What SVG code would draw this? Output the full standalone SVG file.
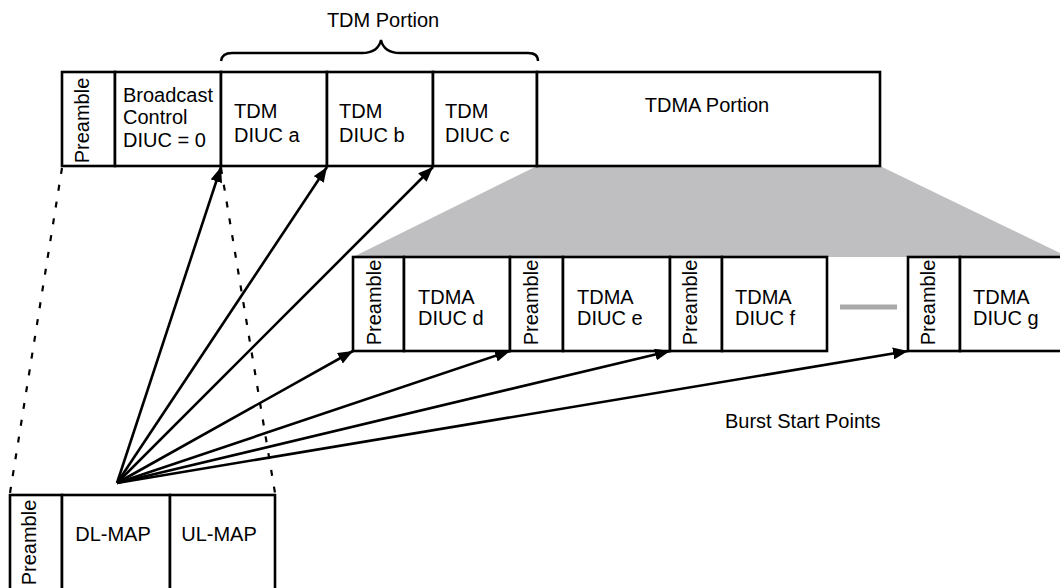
<svg xmlns="http://www.w3.org/2000/svg" width="1060" height="588" viewBox="0 0 1060 588">
<defs>
<style>
.cell{fill:#fff;stroke:#000;stroke-width:2.6}
.t{font-family:"Liberation Sans",Arial,sans-serif;font-size:20px;fill:#000}
.c{text-anchor:middle}
.arr{stroke:#000;stroke-width:2.6;fill:none;marker-end:url(#ah)}
.dash{stroke:#000;stroke-width:2.2;fill:none;stroke-dasharray:6 11}
</style>
<marker id="ah" markerUnits="userSpaceOnUse" markerWidth="16" markerHeight="12" refX="15" refY="6" orient="auto">
<path d="M0,0 L15,6 L0,12 z" fill="#000"/>
</marker>
</defs>
<rect width="1060" height="588" fill="#fff"/>
<polygon id="zoom-shade" points="537,166 880,166 1060,253 1060,257 353,257" fill="#bfbfc1"/>
<g id="brace">
<path d="M221,61 Q222,53 232,53 L362,53 Q378,53 381,40 Q384,53 400,53 L528,53 Q538,53 538,61" fill="none" stroke="#000" stroke-width="2.4"/>
<text class="t c" x="383" y="27">TDM Portion</text>
</g>
<g id="top-frame">
<g id="top-preamble"><rect class="cell" x="62" y="72" width="53" height="94"/><text class="t c" transform="translate(89,120.5) rotate(-90)">Preamble</text></g>
<g id="broadcast"><rect class="cell" x="115" y="72" width="106" height="94"/><text class="t" x="123" y="102">Broadcast</text><text class="t" x="123" y="124">Control</text><text class="t" x="123" y="147">DIUC = 0</text></g>
<g id="tdm-a"><rect class="cell" x="221" y="72" width="106" height="94"/><text class="t" x="234" y="118">TDM</text><text class="t" x="234" y="142">DIUC a</text></g>
<g id="tdm-b"><rect class="cell" x="327" y="72" width="106" height="94"/><text class="t" x="339" y="118">TDM</text><text class="t" x="339" y="142">DIUC b</text></g>
<g id="tdm-c"><rect class="cell" x="433" y="72" width="104" height="94"/><text class="t" x="445" y="118">TDM</text><text class="t" x="445" y="142">DIUC c</text></g>
<g id="tdma-portion"><rect class="cell" x="537" y="72" width="343" height="94"/><text class="t c" x="707" y="112">TDMA Portion</text></g>
</g>
<g id="mid-frame">
<g id="mid-preamble-1"><rect class="cell" x="353" y="257" width="51" height="94"/><text class="t c" transform="translate(381,302.5) rotate(-90)">Preamble</text></g>
<g id="tdma-d"><rect class="cell" x="404" y="257" width="106" height="94"/><text class="t" x="418" y="304">TDMA</text><text class="t" x="418" y="325">DIUC d</text></g>
<g id="mid-preamble-2"><rect class="cell" x="510" y="257" width="53" height="94"/><text class="t c" transform="translate(538,302.5) rotate(-90)">Preamble</text></g>
<g id="tdma-e"><rect class="cell" x="563" y="257" width="107" height="94"/><text class="t" x="577" y="304">TDMA</text><text class="t" x="577" y="325">DIUC e</text></g>
<g id="mid-preamble-3"><rect class="cell" x="670" y="257" width="52" height="94"/><text class="t c" transform="translate(697,302.5) rotate(-90)">Preamble</text></g>
<g id="tdma-f"><rect class="cell" x="722" y="257" width="105" height="94"/><text class="t" x="735" y="304">TDMA</text><text class="t" x="735" y="325">DIUC f</text></g>
<g id="ellipsis"><line x1="840" y1="307" x2="897" y2="307" stroke="#a9a9a9" stroke-width="5"/></g>
<g id="mid-preamble-4"><rect class="cell" x="908" y="257" width="52" height="94"/><text class="t c" transform="translate(935,302.5) rotate(-90)">Preamble</text></g>
<g id="tdma-g"><rect class="cell" x="960" y="257" width="110" height="94"/><text class="t" x="973" y="304">TDMA</text><text class="t" x="973" y="325">DIUC g</text></g>
</g>
<g id="bottom-frame">
<g id="bot-preamble"><rect class="cell" x="10" y="495" width="52" height="110"/><text class="t c" transform="translate(36,542.5) rotate(-90)">Preamble</text></g>
<g id="dl-map"><rect class="cell" x="62" y="495" width="108" height="110"/><text class="t c" x="113" y="541">DL-MAP</text></g>
<g id="ul-map"><rect class="cell" x="170" y="495" width="105" height="110"/><text class="t c" x="219" y="541">UL-MAP</text></g>
</g>
<g id="connectors">
<line class="dash" x1="62" y1="168" x2="10" y2="493"/>
<line class="dash" x1="221" y1="168" x2="275" y2="493"/>
<line class="arr" x1="117" y1="483" x2="221" y2="167"/>
<line class="arr" x1="117" y1="483" x2="327" y2="167"/>
<line class="arr" x1="117" y1="483" x2="433" y2="167"/>
<line class="arr" x1="117" y1="483" x2="353" y2="351"/>
<line class="arr" x1="117" y1="483" x2="510" y2="351"/>
<line class="arr" x1="117" y1="483" x2="670" y2="351"/>
<line class="arr" x1="117" y1="483" x2="908" y2="351"/>
</g>
<text id="burst-label" class="t" x="725" y="428">Burst Start Points</text>
</svg>
